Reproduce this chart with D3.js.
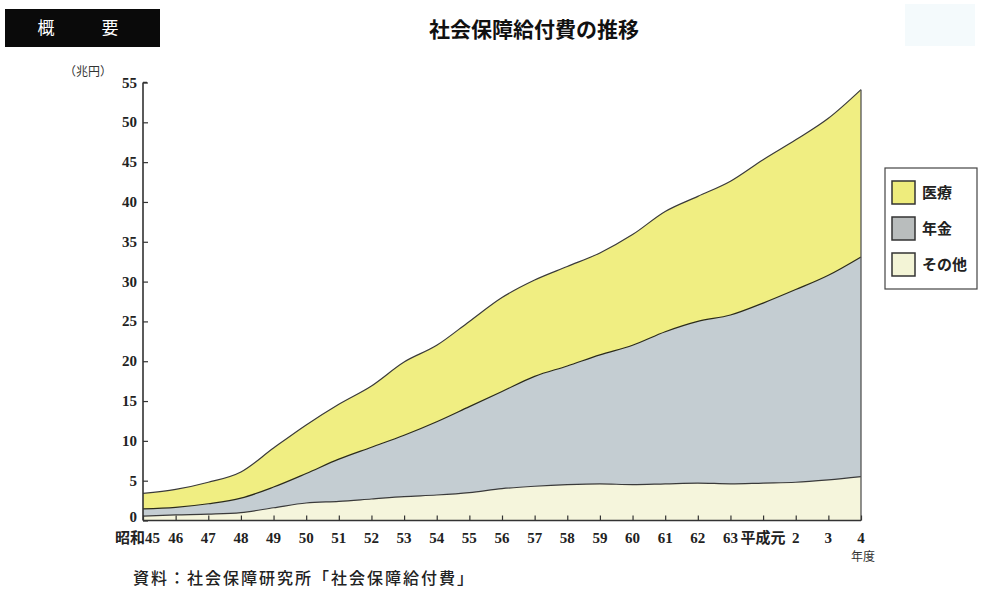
<!DOCTYPE html>
<html lang="ja">
	<head>
		<meta charset="utf-8">
		<title>社会保障給付費の推移</title>
		<script type="text/javascript" src="https://cdn.jsdelivr.net/npm/d3@7/dist/d3.min.js" charset="utf-8"></script>
		<style type="text/css">
			body { margin: 0; background: #ffffff; }
			text { font-family: "Noto Sans CJK JP", sans-serif; }
			text.num { font-family: "Liberation Serif", "Noto Sans CJK JP", serif; font-weight: bold; }
		</style>
	</head>
	<body>
		<script type="text/javascript">
			//Width and height
			var w = 981;
			var h = 590;

			//Fiscal years (tick labels)
			var years = ["昭和45", "46", "47", "48", "49", "50", "51", "52", "53", "54", "55", "56",
						 "57", "58", "59", "60", "61", "62", "63", "平成元", "2", "3", "4"];
			//Series values, 兆円
			var sonota = [0.55, 0.7, 0.8, 1.0, 1.6, 2.2, 2.4, 2.7, 3.0, 3.2, 3.5, 4.0,
						  4.3, 4.5, 4.6, 4.5, 4.6, 4.7, 4.6, 4.7, 4.8, 5.1, 5.5];
			var nenkin = [0.9, 0.95, 1.3, 1.8, 2.6, 3.7, 5.3, 6.5, 7.7, 9.2, 10.8, 12.2,
						  13.8, 14.9, 16.2, 17.5, 19.1, 20.3, 21.2, 22.6, 24.2, 25.7, 27.6];
			var iryo = [1.95, 2.25, 2.7, 3.3, 4.9, 6.1, 6.9, 7.7, 9.2, 9.6, 10.7, 11.8,
						12.1, 12.5, 12.8, 13.9, 15.1, 15.7, 16.8, 18.0, 18.8, 19.7, 21.0];
			var yTicks = [0, 5, 10, 15, 20, 25, 30, 35, 40, 45, 50, 55];
			var legendLabels = ["医療", "年金", "その他"];

			var keys = ["sonota", "nenkin", "iryo"];
			var colors = { iryo: "#f0ee82", nenkin: "#c4cdd2", sonota: "#f5f5dc" };
			var swatch = { iryo: "#eeec7c", nenkin: "#b9bdbd", sonota: "#f3f4d6" };

			var rows = years.map(function(y, i) {
				return { year: y, sonota: sonota[i], nenkin: nenkin[i], iryo: iryo[i] };
			});

			var svg = d3.select("body")
						.append("svg")
						.attr("width", w)
						.attr("height", h);

			//faint scan tint at top right
			svg.append("rect")
			   .attr("x", 905).attr("y", 4)
			   .attr("width", 70).attr("height", 42)
			   .attr("fill", "#f4fafc");

			//header box
			svg.append("rect")
			   .attr("x", 5).attr("y", 9)
			   .attr("width", 155).attr("height", 38)
			   .attr("fill", "#0a0a0a");
			svg.append("text")
			   .attr("x", 46).attr("y", 34)
			   .attr("text-anchor", "middle")
			   .attr("font-size", "17px")
			   .attr("fill", "#ffffff")
			   .text("概");
			svg.append("text")
			   .attr("x", 110).attr("y", 34)
			   .attr("text-anchor", "middle")
			   .attr("font-size", "17px")
			   .attr("fill", "#ffffff")
			   .text("要");

			//title
			svg.append("text")
			   .attr("x", 534).attr("y", 37)
			   .attr("text-anchor", "middle")
			   .attr("font-size", "21px")
			   .attr("font-weight", "bold")
			   .attr("fill", "#111")
			   .text("社会保障給付費の推移");

			var x = d3.scalePoint()
					  .domain(years)
					  .range([143, 861]);
			var y = d3.scaleLinear()
					  .domain([0, 55])
					  .range([520.5, 82.5]);

			var series = d3.stack().keys(keys)(rows);

			var area = d3.area()
						 .curve(d3.curveMonotoneX)
						 .x(function(d) { return x(d.data.year); })
						 .y0(function(d) { return y(d[0]); })
						 .y1(function(d) { return y(d[1]); });
			var line = d3.line()
						 .curve(d3.curveMonotoneX)
						 .x(function(d) { return x(d.data.year); })
						 .y(function(d) { return y(d[1]); });

			svg.selectAll("path.area")
			   .data(series)
			   .enter()
			   .append("path")
			   .attr("class", "area")
			   .attr("d", area)
			   .attr("fill", function(d) { return colors[d.key]; });

			svg.selectAll("path.edge")
			   .data(series)
			   .enter()
			   .append("path")
			   .attr("class", "edge")
			   .attr("d", line)
			   .attr("fill", "none")
			   .attr("stroke", function(d) { return d.key == "nenkin" ? "#2a2a1a" : "#3a3a3a"; })
			   .attr("stroke-width", 1.2);

			//right edge of the areas
			svg.append("line")
			   .attr("x1", x("4")).attr("x2", x("4"))
			   .attr("y1", y(0)).attr("y2", y(d3.sum([sonota[22], nenkin[22], iryo[22]])))
			   .attr("stroke", "#555")
			   .attr("stroke-width", 1.3);

			//y axis
			var yAxis = d3.axisRight(y)
						  .tickValues(yTicks)
						  .tickSize(5)
						  .tickFormat("");
			var gy = svg.append("g")
						.attr("transform", "translate(143,0)")
						.call(yAxis);
			gy.select(".domain").attr("d", "M0," + y(55) + "H4M0," + y(55) + "V" + y(0))
			  .attr("stroke", "#333").attr("stroke-width", 1.6);
			gy.selectAll(".tick line").attr("stroke", "#333").attr("stroke-width", 1.2);
			svg.selectAll("text.ylab")
			   .data(yTicks)
			   .enter()
			   .append("text")
			   .attr("class", "ylab num")
			   .attr("x", 137)
			   .attr("y", function(d) { return y(d) + (d == 0 ? 1 : 5); })
			   .attr("text-anchor", "end")
			   .attr("font-size", "15px")
			   .attr("fill", "#222")
			   .text(function(d) { return d; });

			svg.append("text")
			   .attr("x", 88).attr("y", 76)
			   .attr("text-anchor", "middle")
			   .attr("font-size", "12px")
			   .attr("fill", "#333")
			   .text("（兆円）");

			//x axis
			var xAxis = d3.axisTop(x)
						  .tickSize(5)
						  .tickFormat("");
			var gx = svg.append("g")
						.attr("transform", "translate(0," + y(0) + ")")
						.call(xAxis);
			gx.select(".domain").attr("d", "M143,0H861")
			  .attr("stroke", "#333").attr("stroke-width", 1.6);
			gx.selectAll(".tick line").attr("stroke", "#333").attr("stroke-width", 1.2);

			svg.selectAll("text.xlab")
			   .data(years)
			   .enter()
			   .append("text")
			   .attr("class", "xlab num")
			   .attr("x", function(d, i) { return i == 0 ? 160 : x(d); })
			   .attr("y", 543)
			   .attr("text-anchor", function(d, i) { return i == 0 ? "end" : "middle"; })
			   .attr("font-size", "15px")
			   .attr("fill", "#222")
			   .text(function(d) { return d; });

			svg.append("text")
			   .attr("x", 863).attr("y", 561)
			   .attr("text-anchor", "middle")
			   .attr("font-size", "12px")
			   .attr("fill", "#333")
			   .text("年度");

			//legend
			svg.append("rect")
			   .attr("x", 885).attr("y", 168)
			   .attr("width", 92).attr("height", 121)
			   .attr("fill", "#ffffff")
			   .attr("stroke", "#444")
			   .attr("stroke-width", 1.2);
			var legendKeys = ["iryo", "nenkin", "sonota"];
			var lg = svg.selectAll("g.legend")
						.data(legendKeys)
						.enter()
						.append("g")
						.attr("class", "legend")
						.attr("transform", function(d, i) { return "translate(892," + (181 + i * 36) + ")"; });
			lg.append("rect")
			  .attr("width", 23).attr("height", 23)
			  .attr("fill", function(d) { return swatch[d]; })
			  .attr("stroke", "#333")
			  .attr("stroke-width", 1.5);
			lg.append("text")
			  .attr("x", 30).attr("y", 17)
			  .attr("font-size", "15px")
			  .attr("font-weight", "bold")
			  .attr("fill", "#222")
			  .text(function(d, i) { return legendLabels[i]; });

			//source note
			svg.append("text")
			   .attr("x", 133).attr("y", 584)
			   .attr("font-size", "16px")
			   .attr("letter-spacing", "2px")
			   .attr("font-weight", "500")
			   .attr("fill", "#222")
			   .text("資料：社会保障研究所「社会保障給付費」");
		</script>
	</body>
</html>
